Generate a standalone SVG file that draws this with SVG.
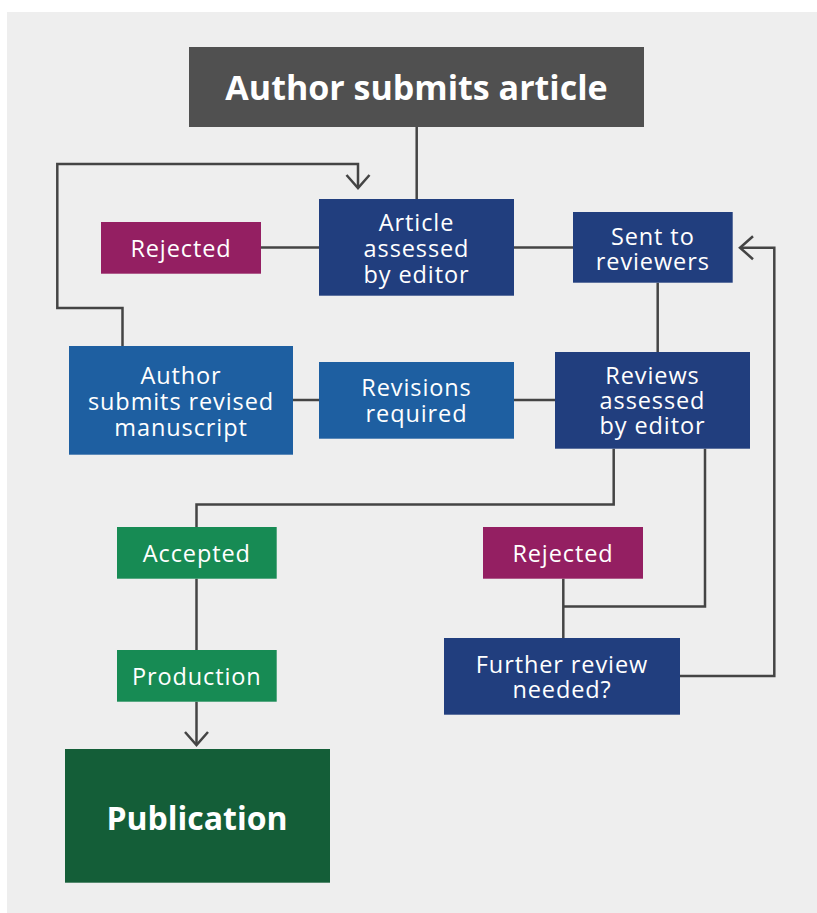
<svg xmlns="http://www.w3.org/2000/svg" width="817" height="913" viewBox="0 0 817 913">
<style>
.t{font-family:"Open Sans","Noto Sans","DejaVu Sans",sans-serif;font-size:23.5px;fill:#ffffff;text-anchor:middle;letter-spacing:0.9px}
.b{font-family:"Open Sans","Noto Sans","DejaVu Sans",sans-serif;font-size:34px;font-weight:bold;fill:#ffffff;text-anchor:middle}
.c{fill:none;stroke:#444444;stroke-width:2.5}
.navy{fill:#213e7e}
.blue{fill:#1e5fa1}
.mag{fill:#941f62}
.grn{fill:#178b54}
</style>
<defs>
<marker id="arr" markerWidth="30" markerHeight="30" viewBox="-15 -15 30 30" refX="0" refY="0" orient="auto" markerUnits="userSpaceOnUse">
<path d="M-13,-11.5 L0,0 L-13,11.5" fill="none" stroke="#444444" stroke-width="2.5"/>
</marker>
</defs>
<rect x="7" y="12" width="810" height="901" fill="#eeeeee"/>
<g id="connectors">
<path class="c" d="M416.7,127 V199"/>
<path class="c" d="M261,247.5 H319"/>
<path class="c" d="M514,247.5 H573"/>
<path class="c" d="M657.7,282.7 V352"/>
<path class="c" d="M293,400 H319"/>
<path class="c" d="M514,400 H555"/>
<path class="c" d="M122.5,346 V308 H57.3 V164 H358 V188" marker-end="url(#arr)"/>
<path class="c" d="M613.7,448.7 V504.5 H196.5 V527"/>
<path class="c" d="M196.5,578.7 V650"/>
<path class="c" d="M196.5,701.7 V745" marker-end="url(#arr)"/>
<path class="c" d="M705,448.7 V606.5 H563.3"/>
<path class="c" d="M563.3,578.7 V638"/>
<path class="c" d="M680,676 H774.3 V247.7 H740" marker-end="url(#arr)"/>
</g>
<g id="author-submits">
<rect x="189" y="47" width="455" height="80" fill="#505050"/>
<text class="b" x="416.5" y="100">Author submits article</text>
</g>
<g id="rejected-1">
<rect class="mag" x="101" y="222" width="160" height="51.7"/>
<text class="t" x="181" y="257">Rejected</text>
</g>
<g id="article-assessed">
<rect class="navy" x="319" y="199" width="195" height="96.7"/>
<text class="t" x="416.5" y="230.7">Article</text>
<text class="t" x="416.5" y="256.7">assessed</text>
<text class="t" x="416.5" y="282.7">by editor</text>
</g>
<g id="sent-to-reviewers">
<rect class="navy" x="573" y="212" width="159.7" height="70.7"/>
<text class="t" x="652.8" y="244.5">Sent to</text>
<text class="t" x="652.8" y="270">reviewers</text>
</g>
<g id="author-revised">
<rect class="blue" x="69" y="346" width="224" height="108.7"/>
<text class="t" x="181" y="384">Author</text>
<text class="t" x="181" y="410">submits revised</text>
<text class="t" x="181" y="435.5">manuscript</text>
</g>
<g id="revisions-required">
<rect class="blue" x="319" y="362" width="195" height="76.7"/>
<text class="t" x="416.5" y="396">Revisions</text>
<text class="t" x="416.5" y="421.7">required</text>
</g>
<g id="reviews-assessed">
<rect class="navy" x="555" y="352" width="195" height="96.7"/>
<text class="t" x="652.5" y="384.3">Reviews</text>
<text class="t" x="652.5" y="409.3">assessed</text>
<text class="t" x="652.5" y="434.3">by editor</text>
</g>
<g id="accepted">
<rect class="grn" x="117" y="527" width="159.7" height="51.7"/>
<text class="t" x="196.8" y="561.7">Accepted</text>
</g>
<g id="production">
<rect class="grn" x="117" y="650" width="159.7" height="51.7"/>
<text class="t" x="196.8" y="685">Production</text>
</g>
<g id="publication">
<rect x="65" y="749" width="265" height="133.7" fill="#145e38"/>
<text class="b" x="197" y="830" style="font-size:32px">Publication</text>
</g>
<g id="rejected-2">
<rect class="mag" x="483" y="527" width="160" height="51.7"/>
<text class="t" x="563" y="562.3">Rejected</text>
</g>
<g id="further-review">
<rect class="navy" x="444" y="638" width="236" height="76.7"/>
<text class="t" x="562" y="672.7">Further review</text>
<text class="t" x="562" y="697.7">needed?</text>
</g>
</svg>
